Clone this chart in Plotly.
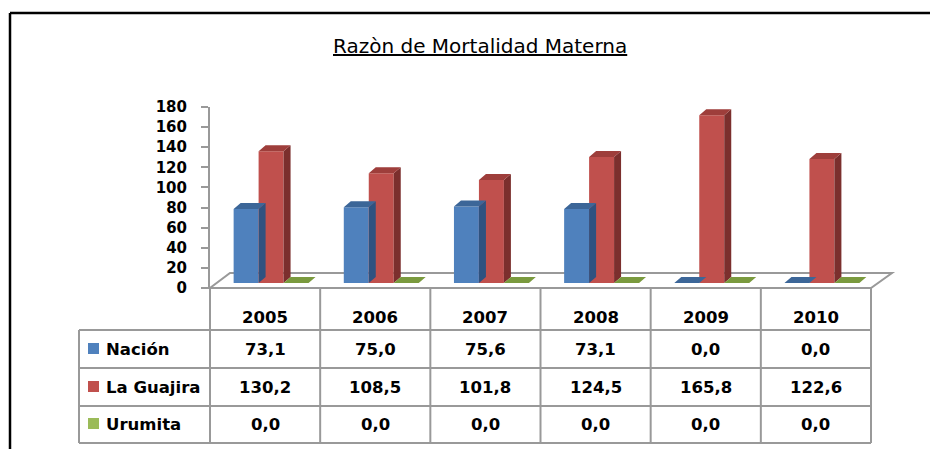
import plotly.graph_objects as go

# ---------------- data ----------------
years = ["2005", "2006", "2007", "2008", "2009", "2010"]
series_names = ["Nación", "La Guajira", "Urumita"]
nacion = [73.1, 75.0, 75.6, 73.1, 0.0, 0.0]
la_guajira = [130.2, 108.5, 101.8, 124.5, 165.8, 122.6]
urumita = [0.0, 0.0, 0.0, 0.0, 0.0, 0.0]
y_ticks = [0, 20, 40, 60, 80, 100, 120, 140, 160, 180]
title_text = "Razòn de Mortalidad Materna"

# ---------------- styles ----------------
W, H = 938, 449
OFF = 8   # page body margin: the figure starts 8px in from the window corner
front_cols = ["#4F81BD", "#C0504D", "#9BBB59"]
top_cols = ["#3C6698", "#9E3E3B", "#7A9A3E"]
side_cols = ["#2F5280", "#7B2F2D", "#5F7A2E"]
grid_col = "#999999"
FONT = "DejaVu Sans"

def px(x):
    return (x - OFF) / W

def py(y):
    return 1 - (y - OFF) / H

# plot geometry (window pixels)
X0, X1 = 210, 871          # category axis span (table columns)
Y0, Y180 = 288, 107        # visible value axis
BX_SHIFT = 6               # bars sit slightly back on the floor
BY0, BY180 = 283, 101
BARGAP = 0.32
DEPTH_PX_X, DEPTH_PX_Y = 7, 6

fig = go.Figure()

ncat = len(years)
values = [nacion, la_guajira, urumita]
w = (1 - BARGAP) / len(values)
dx = DEPTH_PX_X / ((X1 - X0) / ncat)
dy = DEPTH_PX_Y / ((BY0 - BY180) / 180)

# front faces
for j, (name, vals) in enumerate(zip(series_names, values)):
    fig.add_trace(go.Bar(
        x=list(range(ncat)), y=vals, name=name,
        marker=dict(color=front_cols[j], line=dict(width=0)),
        xaxis="x2", yaxis="y2", showlegend=False, hoverinfo="skip",
    ))

# top and side faces (computed from the values)
for j, vals in enumerate(values):
    tx, ty, sx, sy = [], [], [], []
    for i, v in enumerate(vals):
        xl = i - (1 - BARGAP) / 2 + w * j
        xr = xl + w
        tx += [xl, xr, xr + dx, xl + dx, xl, None]
        ty += [v, v, v + dy, v + dy, v, None]
        if v > 0:
            sx += [xr, xr + dx, xr + dx, xr, xr, None]
            sy += [0, dy, v + dy, v, 0, None]
    if sx:
        fig.add_trace(go.Scatter(x=sx, y=sy, mode="lines", fill="toself",
                                 fillcolor=side_cols[j], line=dict(width=0),
                                 xaxis="x2", yaxis="y2", showlegend=False,
                                 hoverinfo="skip"))
    fig.add_trace(go.Scatter(x=tx, y=ty, mode="lines", fill="toself",
                             fillcolor=top_cols[j], line=dict(width=0),
                             xaxis="x2", yaxis="y2", showlegend=False,
                             hoverinfo="skip"))

shapes = []
# outer frame
shapes.append(dict(type="line", xref="paper", yref="paper",
                   x0=px(10), y0=py(13), x1=px(W + OFF), y1=py(13),
                   line=dict(color="black", width=2.5)))
shapes.append(dict(type="line", xref="paper", yref="paper",
                   x0=px(10), y0=py(13), x1=px(10), y1=py(H + OFF),
                   line=dict(color="black", width=2.5)))
# floor
shapes.append(dict(type="path", xref="paper", yref="paper", layer="below",
                   path=f"M {px(X0)} {py(Y0)} L {px(X1)} {py(Y0)} L {px(X1+21)} {py(Y0-15)} "
                        f"L {px(X0+20)} {py(Y0-15)} Z",
                   fillcolor="white", line=dict(color=grid_col, width=2)))

# data table grid
col_w = (X1 - X0) / ncat
row_lines = [330, 368, 406, 443]
LEG_X = 79
for yl in row_lines:
    shapes.append(dict(type="line", xref="paper", yref="paper",
                       x0=px(LEG_X), y0=py(yl), x1=px(X1), y1=py(yl),
                       line=dict(color=grid_col, width=2)))
for k in range(ncat + 1):
    xv = X0 + k * col_w
    shapes.append(dict(type="line", xref="paper", yref="paper",
                       x0=px(xv), y0=py(Y0), x1=px(xv), y1=py(row_lines[-1]),
                       line=dict(color=grid_col, width=2)))
shapes.append(dict(type="line", xref="paper", yref="paper",
                   x0=px(LEG_X), y0=py(row_lines[0]), x1=px(LEG_X), y1=py(row_lines[-1]),
                   line=dict(color=grid_col, width=2)))

annotations = []
cell_font = dict(family=FONT, size=16.5, color="black", weight="bold")
# header years
for i, yr in enumerate(years):
    annotations.append(dict(x=i, y=py(317), xref="x", yref="paper", text=yr,
                            xanchor="center", yanchor="middle",
                            showarrow=False, font=cell_font))
# rows
row_centers = [349, 387, 424]
for j, (name, vals) in enumerate(zip(series_names, values)):
    yc = row_centers[j]
    for i, v in enumerate(vals):
        annotations.append(dict(x=i, y=py(yc), xref="x", yref="paper",
                                text=f"{v:.1f}".replace(".", ","),
                                xanchor="center", yanchor="middle",
                                showarrow=False, font=cell_font))
    shapes.append(dict(type="rect", xref="paper", yref="paper",
                       x0=px(88), y0=py(yc - 6), x1=px(99), y1=py(yc + 5),
                       fillcolor=front_cols[j], line=dict(width=0)))
    annotations.append(dict(x=px(104), y=py(yc), xref="paper", yref="paper",
                            text=name, xanchor="left", yanchor="middle",
                            showarrow=False, font=cell_font))

# title
annotations.append(dict(x=px(480), y=py(46), xref="paper", yref="paper",
                        text=title_text, showarrow=False,
                        xanchor="center", yanchor="middle",
                        font=dict(family=FONT, size=20, color="black",
                                  lineposition="under")))

fig.update_layout(
    width=W, height=H, autosize=False,
    margin=dict(l=0, r=0, t=0, b=0, pad=0, autoexpand=False),
    paper_bgcolor="white", plot_bgcolor="rgba(0,0,0,0)",
    barmode="group", bargap=BARGAP, bargroupgap=0,
    showlegend=False,
    xaxis=dict(domain=[px(X0), px(X1)], range=[-0.5, ncat - 0.5],
               visible=False, anchor="y", automargin=False),
    yaxis=dict(domain=[py(Y0), py(Y180)], range=[0, 180], anchor="x",
               automargin=False,
               tickvals=y_ticks, ticktext=[str(t) for t in y_ticks],
               showgrid=False, zeroline=False, showline=True,
               linecolor=grid_col, linewidth=2, ticks="outside",
               ticklen=7, tickcolor=grid_col, tickwidth=2,
               ticklabelstandoff=11,
               tickfont=dict(family=FONT, size=15, color="black", weight="bold")),
    xaxis2=dict(domain=[px(X0 + BX_SHIFT), px(X1 + BX_SHIFT)],
                range=[-0.5, ncat - 0.5], visible=False, anchor="y2",
                automargin=False),
    yaxis2=dict(domain=[py(BY0), py(BY180)], range=[0, 180],
                visible=False, anchor="x2", automargin=False),
    shapes=shapes, annotations=annotations,
)

fig.write_html("out.html")
